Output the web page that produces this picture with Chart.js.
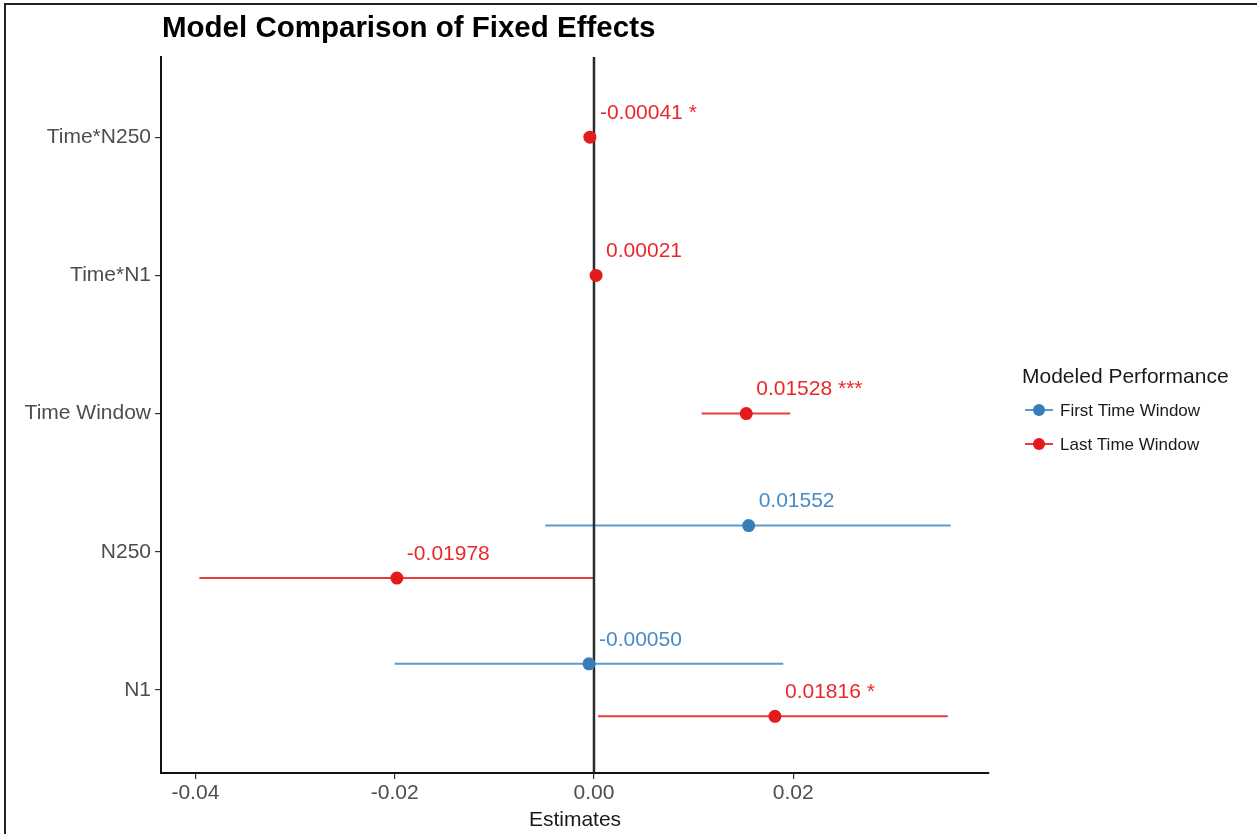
<!DOCTYPE html>
<html>
<head>
<meta charset="utf-8">
<script src="https://cdn.jsdelivr.net/npm/chart.js@4.4.1/dist/chart.umd.min.js"></script>
<style>
  html, body { margin: 0; padding: 0; background: #ffffff; }
  #wrap { width: 1257px; height: 834px; position: relative; }
  canvas { display: block; }
</style>
</head>
<body>
<div id="wrap"><canvas id="c" width="1257" height="834"></canvas></div>
<script>
// ---------- data ----------
const categories = ['N1', 'N250', 'Time Window', 'Time*N1', 'Time*N250'];
const seriesNames = ['First Time Window', 'Last Time Window'];
const seriesColors = ['#377EB8', '#E41A1C'];
const lineColors = ['#5b9bd0', '#ec3b3d'];

const firstEst    = [-0.00050, 0.01552, null, null, null];
const firstLow    = [-0.0200, -0.0049, null, null, null];
const firstHigh   = [0.0190, 0.0358, null, null, null];
const firstLabels = ['-0.00050', '0.01552', null, null, null];

const lastEst    = [0.01816, -0.01978, 0.01528, 0.00021, -0.00041];
const lastLow    = [0.0004, -0.0396, 0.0108, 0.0000, -0.0006];
const lastHigh   = [0.0355, 0.0001, 0.0197, 0.0004, -0.0002];
const lastLabels = ['0.01816 *', '-0.01978', '0.01528 ***', '0.00021', '-0.00041 *'];

const xTicks = [-0.04, -0.02, 0, 0.02];
const xMin = -0.04345, xMax = 0.03964;
const yMin = 0.4, yMax = 5.58;
const dodge = 0.19;

const chartTitle = 'Model Comparison of Fixed Effects';
const xTitle = 'Estimates';
const legendTitle = 'Modeled Performance';

// ---------- build ----------
const series = [
  { est: firstEst, low: firstLow, high: firstHigh, labels: firstLabels },
  { est: lastEst, low: lastLow, high: lastHigh, labels: lastLabels }
];
function yPos(s, i) {
  const both = firstEst[i] !== null && lastEst[i] !== null;
  if (!both) return i + 1;
  return i + 1 + (s === 0 ? dodge : -dodge);
}
const datasets = series.map((sr, s) => ({
  label: seriesNames[s],
  data: sr.est.map((v, i) => v === null ? null : { x: v, y: yPos(s, i) }).filter(d => d),
  backgroundColor: seriesColors[s],
  borderColor: seriesColors[s],
  borderWidth: 0,
  pointRadius: 6.5,
  showLine: false,
  order: 0
}));
// zero reference line
datasets.unshift({
  label: 'zero',
  data: [{ x: 0, y: yMin }, { x: 0, y: yMax }],
  showLine: true,
  borderColor: '#2b2b2b',
  borderWidth: 2.5,
  pointRadius: 0,
  order: 5
});

const FONT = '"Liberation Sans", Arial, Helvetica, sans-serif';

const errorBars = {
  id: 'errorBars',
  beforeDatasetsDraw(chart) {
    const ctx = chart.ctx, xs = chart.scales.x, ys = chart.scales.y;
    ctx.save();
    series.forEach((sr, s) => {
      ctx.strokeStyle = lineColors[s];
      ctx.lineWidth = 2;
      sr.est.forEach((v, i) => {
        if (v === null) return;
        const y = ys.getPixelForValue(yPos(s, i));
        ctx.beginPath();
        ctx.moveTo(xs.getPixelForValue(sr.low[i]), y);
        ctx.lineTo(xs.getPixelForValue(sr.high[i]), y);
        ctx.stroke();
      });
    });
    ctx.restore();
  },
  afterDatasetsDraw(chart) {
    const ctx = chart.ctx, xs = chart.scales.x, ys = chart.scales.y;
    ctx.save();
    ctx.font = '21px ' + FONT;
    ctx.textAlign = 'left';
    ctx.textBaseline = 'middle';
    series.forEach((sr, s) => {
      ctx.fillStyle = s === 0 ? '#4a8bc6' : '#e8292b';
      sr.est.forEach((v, i) => {
        if (v === null) return;
        const x = xs.getPixelForValue(v) + 10;
        const y = ys.getPixelForValue(yPos(s, i)) - 24;
        ctx.fillText(sr.labels[i], x, y);
      });
    });
    ctx.restore();
  },
  afterDraw(chart) {
    const ctx = chart.ctx;
    ctx.save();
    // frame (left & top)
    ctx.strokeStyle = '#222';
    ctx.lineWidth = 2;
    ctx.beginPath();
    ctx.moveTo(5, 834); ctx.lineTo(5, 4); ctx.lineTo(1257, 4);
    ctx.stroke();
    // title
    ctx.fillStyle = '#000';
    ctx.font = 'bold 29.5px ' + FONT;
    ctx.textAlign = 'left';
    ctx.textBaseline = 'middle';
    ctx.fillText(chartTitle, 162, 29);
    // legend
    ctx.font = '21px ' + FONT;
    ctx.fillStyle = '#1a1a1a';
    ctx.fillText(legendTitle, 1022, 377);
    ctx.font = '17px ' + FONT;
    const ly = [410, 444];
    seriesNames.forEach((n, s) => {
      ctx.strokeStyle = lineColors[s];
      ctx.lineWidth = 2;
      ctx.beginPath();
      ctx.moveTo(1025, ly[s]); ctx.lineTo(1053, ly[s]);
      ctx.stroke();
      ctx.fillStyle = seriesColors[s];
      ctx.beginPath();
      ctx.arc(1039, ly[s], 6, 0, Math.PI * 2);
      ctx.fill();
      ctx.fillStyle = '#1a1a1a';
      ctx.fillText(n, 1060, ly[s] + 1);
    });
    ctx.restore();
  }
};

new Chart(document.getElementById('c'), {
  type: 'scatter',
  data: { datasets },
  plugins: [errorBars],
  options: {
    responsive: false,
    animation: false,
    devicePixelRatio: 1,
    layout: { padding: { top: 57, right: 268, bottom: 0, left: 0 } },
    plugins: { legend: { display: false }, tooltip: { enabled: false }, title: { display: false } },
    scales: {
      x: {
        type: 'linear',
        min: xMin, max: xMax,
        afterFit(scale) { scale.height = 61; },
        afterBuildTicks(scale) { scale.ticks = xTicks.map(v => ({ value: v })); },
        ticks: {
          color: '#4d4d4d',
          font: { family: FONT, size: 21 },
          padding: 2,
          maxRotation: 0,
          callback: v => Number(v).toFixed(2)
        },
        grid: { display: true, drawOnChartArea: false, drawTicks: true, tickLength: 6, color: '#333333', lineWidth: 1.2 },
        border: { display: true, color: '#111111', width: 2 },
        title: { display: true, text: xTitle, color: '#1a1a1a', font: { family: FONT, size: 21 }, padding: { top: 0, bottom: 1 } }
      },
      y: {
        type: 'linear',
        min: yMin, max: yMax,
        afterFit(scale) { scale.width = 161; },
        afterBuildTicks(scale) { scale.ticks = categories.map((c, i) => ({ value: i + 1 })); },
        ticks: {
          color: '#4d4d4d',
          font: { family: FONT, size: 21 },
          padding: 4,
          callback: v => categories[Math.round(v) - 1]
        },
        grid: { display: true, drawOnChartArea: false, drawTicks: true, tickLength: 6, color: '#333333', lineWidth: 1.2 },
        border: { display: true, color: '#111111', width: 2 }
      }
    }
  }
});
</script>
</body>
</html>
